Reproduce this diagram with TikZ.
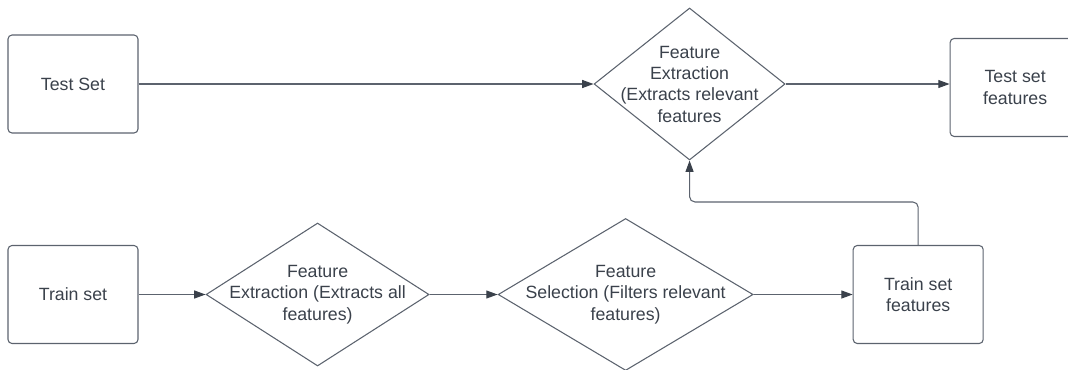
\documentclass[tikz,border=0pt]{standalone}
\usepackage{fontspec}
\setmainfont{Liberation Sans}
\usetikzlibrary{shapes.geometric,arrows.meta,positioning}
\definecolor{linegray}{HTML}{5C636E}
\definecolor{textgray}{HTML}{3A414B}

\begin{document}
\begin{tikzpicture}[
    x=0.75pt, y=-0.75pt,
    box/.style={rectangle, rounded corners=3pt, draw=linegray, line width=0.8pt, minimum width=97.5pt, minimum height=73.5pt, align=center, text=textgray, font=\fontsize{13.3pt}{16pt}\selectfont},
    decision/.style={diamond, aspect=1.5, draw=linegray, line width=0.8pt, inner xsep=0pt, inner ysep=-20pt, align=center, text=textgray, font=\fontsize{13.3pt}{16pt}\selectfont},
    arrow/.style={-{Triangle[length=8.5pt, width=6pt, color=textgray]}, draw=linegray, line width=0.8pt}
]
    \useasboundingbox (0,0) rectangle (1068,369);

    \node[box] (testset) at (73,84) {Test Set};
    \node[decision, minimum width=143.25pt, minimum height=114pt, right=341.25pt of testset] (extractrel) {
        Feature\\
        Extraction\\
        (Extracts relevant\\
        features
    };
    \node[box, right=123pt of extractrel, yshift=-2.6pt] (testfeat) {Test set\\features};

    \node[box] (trainset) at (73,294.5) {Train set};
    \node[decision, minimum width=167.25pt, minimum height=107.25pt, right=50.25pt of trainset] (extractall) {
        Feature\\
        Extraction (Extracts all\\
        features)
    };
    \node[decision, minimum width=191.25pt, minimum height=114pt, right=51pt of extractall] (select) {
        Feature\\
        Selection (Filters relevant\\
        features)
    };
    \node[box, right=74.25pt of select] (trainfeat) {Train set\\features};

    \draw[arrow] (testset.east) -- (extractrel.west);
    \draw[arrow] (extractrel.east) -- (testfeat.west |- extractrel.east);
    \draw[arrow] (trainset.east) -- (extractall.west);
    \draw[arrow] (extractall.east) -- (select.west);
    \draw[arrow] (select.east) -- (trainfeat.west);
    \draw[arrow, rounded corners=4pt] (trainfeat.north) -- ++(0,-43) -| (extractrel.south);
\end{tikzpicture}
\end{document}
